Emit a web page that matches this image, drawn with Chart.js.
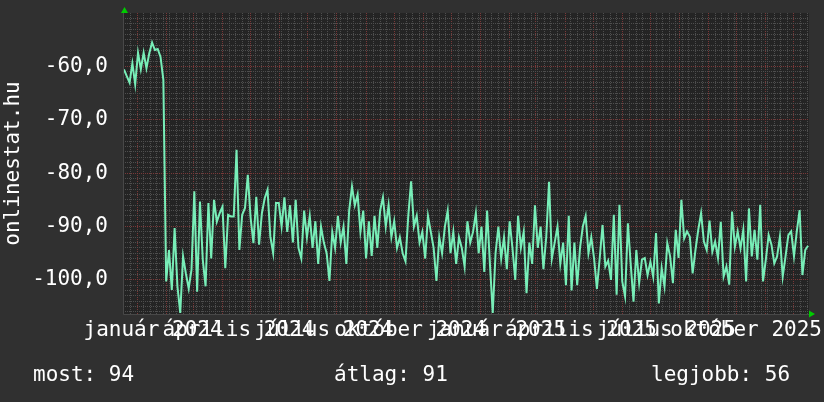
<!DOCTYPE html>
<html>
<head>
<meta charset="utf-8">
<script src="https://cdn.jsdelivr.net/npm/chart.js@4.4.1/dist/chart.umd.min.js"></script>
<style>
  html, body { margin: 0; padding: 0; background: #303030; width: 824px; height: 402px; overflow: hidden; }
  #wrap { position: relative; width: 824px; height: 402px; }
  #c { position: absolute; left: 0; top: 0; }
  .stat { position: absolute; top: 364px; font-family: 'DejaVu Sans Mono', monospace; font-size: 21px; line-height: 21px; color: #ffffff; white-space: pre; }
</style>
</head>
<body>
<div id="wrap">
  <canvas id="c" width="824" height="402"></canvas>
  <div class="stat" id="s0" style="left:33px"></div>
  <div class="stat" id="s1" style="left:334px"></div>
  <div class="stat" id="s2" style="left:651px"></div>
</div>
<script>
// ---- data ----
// Sample days are counted from 2023-12-17 (day 0); one sample every 3 days starting at day 1.
const SPAN_DAYS = 731;
const FIRST_SAMPLE_DAY = 1;
const SAMPLE_STEP_DAYS = 3;

const values = [
  -60.5, -61.8, -63.0, -59.4, -63.3, -57.4, -60.5, -57.4, -60.3, -57.5, -55.5, -56.9, -56.7, -58.2, -62.5,
  -100.3, -94.4, -101.9, -90.3, -101.2, -106.2, -95.6, -98.8, -101.6, -98.1, -83.4, -102.2, -85.3, -96.2, -101.2,
  -85.6, -96.0, -85.0, -89.1, -87.5, -86.3, -97.8, -87.8, -88.1, -88.1, -75.6, -94.4, -87.8, -86.5, -80.3,
  -88.4, -93.1, -84.4, -93.4, -87.5, -84.7, -83.1, -91.9, -95.0, -85.6, -85.6, -90.0,
  -84.5, -91, -86, -93, -85, -94, -96, -87, -92, -88, -94, -89, -97, -90, -93, -95, -100.2, -91, -94, -88,
  -93, -90, -97, -87, -82.5, -86, -84, -91, -87, -96, -89, -95.5, -88, -94, -87, -84.5, -90, -86, -92, -89,
  -94, -92, -95, -96.5, -88, -81.5, -90, -88, -93, -91, -96, -88, -91, -94, -100.2, -92, -95, -90, -87, -95,
  -91, -97, -92, -94, -97.5, -89, -93, -91, -87.5, -95, -90, -98.5, -87, -97, -106.2,
  -95, -90, -96, -92, -98, -89, -94, -100, -88, -94, -91, -102.5, -93, -97, -86, -94, -90, -98, -92, -81.6,
  -96, -93, -90, -97, -93, -101, -88, -102, -93, -101, -94, -90, -88, -95, -92, -96, -101.7, -95.9,
  -89.7, -97.5, -96.4, -100,
  -87.8, -102.8, -85.9, -100.3, -103.1, -89.4, -97, -104.1, -94.4, -100.6, -96.2, -95.9, -99.1, -96.6, -99.4,
  -91.2, -104.4, -97.8, -101.2, -93.1, -95.6, -100.6, -90.6, -95.9, -85, -92.2, -90.9, -91.9, -98.8, -94.4,
  -90.6, -87.5, -92.8, -94.4, -88.9, -94.7, -92.8, -95.9, -89.1, -99.4, -97.5, -100.9, -87.2, -93.8, -90.9,
  -94.1, -90.6, -100.3, -86.6, -95.6, -90.6, -96.2, -85.9, -100.3, -96.2, -91.6, -93.4, -96.9, -95.6, -91.9,
  -99.4, -95.6, -91.6, -90.9, -95.6, -90.9, -86.9, -99.1, -94.4, -93.6
];

const yLabelValues = [-100, -90, -80, -70, -60];
const xLabelTexts = ['január 2024', 'április 2024', 'július 2024', 'október 2024',
                     'január 2025', 'április 2025', 'július 2025', 'október 2025'];
const xLabelDays = [32, 123, 214, 306, 398, 488, 579, 664];
const statTexts = ['most: 94', 'átlag: 91', 'legjobb: 56'];
const yTitle = 'onlinestat.hu';

// ---- styling ----
const FONT = "'DejaVu Sans Mono', monospace";
const LINE = '#78eeb8';
const GRID_GRAY = '#4e4e4e';
const GRID_RED = '#7a3838';
const PLOT_BG = '#242424';
const ARROW = '#00cc00';

statTexts.forEach((t, i) => { document.getElementById('s' + i).textContent = t; });

// grid positions: month starts (red) and weekly lines (gray)
function dayOf(y, m, d) { return Math.round((Date.UTC(y, m, d) - Date.UTC(2023, 11, 17)) / 86400000); }
const monthDays = [];
for (let y = 2024; y <= 2025; y++) for (let m = 0; m < 12; m++) monthDays.push(dayOf(y, m, 1));
const gridTicks = [];
for (let d = 1; d < SPAN_DAYS; d += 7) {
  if (!monthDays.some(md => Math.abs(md - d) < 2)) gridTicks.push({ value: d, red: false });
}
monthDays.forEach(d => { if (d > 0 && d < SPAN_DAYS) gridTicks.push({ value: d, red: true }); });
gridTicks.sort((a, b) => a.value - b.value);

const points = values.map((v, i) => ({ x: FIRST_SAMPLE_DAY + i * SAMPLE_STEP_DAYS, y: v }));

function noPad(s) { s.paddingTop = 0; s.paddingBottom = 0; s.paddingLeft = 0; s.paddingRight = 0; }

const decor = {
  id: 'decor',
  beforeDraw(chart) {
    const { ctx, chartArea: a } = chart;
    ctx.save();
    ctx.fillStyle = PLOT_BG;
    ctx.fillRect(a.left, a.top, a.right - a.left, a.bottom - a.top);
    ctx.restore();
  },
  afterDraw(chart) {
    const { ctx, chartArea: a } = chart;
    ctx.save();
    ctx.strokeStyle = '#484848';
    ctx.lineWidth = 1;
    ctx.beginPath();
    ctx.moveTo(a.left + 0.5, a.top - 2); ctx.lineTo(a.left + 0.5, a.bottom + 0.5);
    ctx.lineTo(a.right + 2, a.bottom + 0.5);
    ctx.stroke();
    ctx.fillStyle = ARROW;
    ctx.beginPath();
    ctx.moveTo(a.left + 1.5, a.top - 6); ctx.lineTo(a.left - 2, a.top); ctx.lineTo(a.left + 5, a.top);
    ctx.closePath(); ctx.fill();
    ctx.beginPath();
    ctx.moveTo(a.right + 6, a.bottom); ctx.lineTo(a.right, a.bottom - 3.5); ctx.lineTo(a.right, a.bottom + 3.5);
    ctx.closePath(); ctx.fill();
    ctx.restore();
  }
};

new Chart(document.getElementById('c'), {
  type: 'line',
  data: {
    datasets: [{
      data: points,
      borderColor: LINE,
      borderWidth: 2,
      pointRadius: 0,
      tension: 0,
      fill: false,
      xAxisID: 'x',
      yAxisID: 'y'
    }]
  },
  options: {
    responsive: false,
    animation: false,
    events: [],
    layout: { padding: { top: 13, right: 15, left: 0, bottom: 0 } },
    plugins: { legend: { display: false }, tooltip: { enabled: false } },
    scales: {
      x: {
        type: 'linear', position: 'bottom', min: 0, max: SPAN_DAYS,
        afterBuildTicks: s => { s.ticks = gridTicks.map(t => ({ value: t.value, red: t.red })); },
        afterFit: s => { s.height = 0; noPad(s); },
        grid: { color: c => (c.tick && c.tick.red) ? GRID_RED : GRID_GRAY, lineWidth: 1, drawTicks: false },
        border: { display: false, dash: [1, 1] },
        ticks: { display: false }
      },
      xl: {
        type: 'linear', position: 'bottom', min: 0, max: SPAN_DAYS,
        afterBuildTicks: s => { s.ticks = xLabelDays.map(d => ({ value: d })); },
        afterFit: s => { s.height = 88; noPad(s); },
        grid: { display: false, drawTicks: false },
        border: { display: false },
        ticks: {
          autoSkip: false, maxRotation: 0, minRotation: 0, padding: 4,
          color: '#ffffff', font: { family: FONT, size: 21 },
          callback: (v, i) => xLabelTexts[i]
        }
      },
      y: {
        type: 'linear', min: -106.4, max: -49.95,
        afterBuildTicks: s => { const t = []; for (let v = -106; v <= -51; v++) t.push({ value: v }); s.ticks = t; },
        afterFit: s => { s.width = 123; noPad(s); },
        grid: { color: c => (c.tick && c.tick.value % 10 === 0) ? GRID_RED : GRID_GRAY, lineWidth: 1, drawTicks: false },
        border: { display: false, dash: [1, 1] },
        ticks: {
          autoSkip: false, padding: 15, color: '#ffffff', font: { family: FONT, size: 21 },
          callback: v => yLabelValues.includes(v) ? v.toFixed(1).replace('.', ',') : ''
        },
        title: { display: true, text: yTitle, color: '#ffffff', font: { family: FONT, size: 21 }, padding: { top: 1, bottom: 0 } }
      }
    }
  },
  plugins: [decor]
});
</script>
</body>
</html>
